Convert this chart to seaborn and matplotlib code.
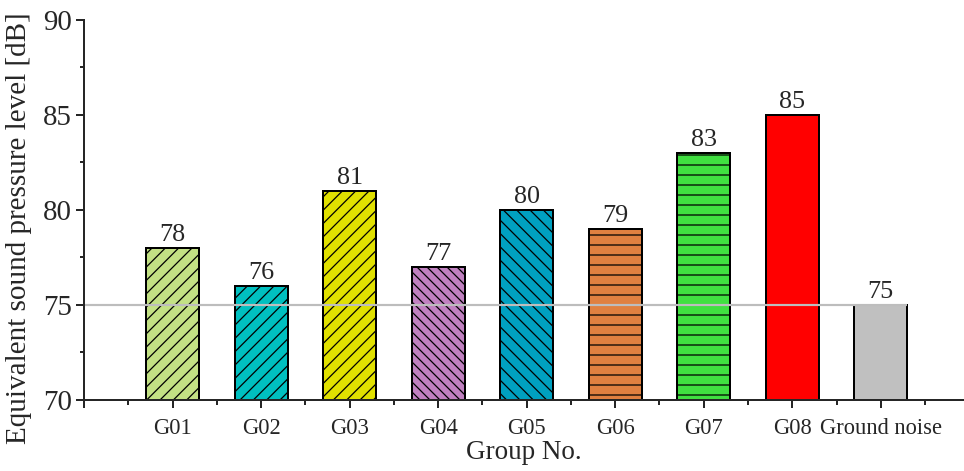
import numpy as np
import pandas as pd
import matplotlib
matplotlib.use("Agg")
import matplotlib.pyplot as plt
import seaborn as sns

# Equivalent sound pressure level per test group
groups = ["G01", "G02", "G03", "G04", "G05", "G06", "G07", "G08", "Ground noise"]
levels = [78, 76, 81, 77, 80, 79, 83, 85, 75]
colors = ["#C3E184", "#00C0C0", "#E0E000", "#C080C0", "#00A0C0",
          "#E08040", "#40E040", "#FF0000", "#C0C0C0"]
hatches = ["///", "///", "///", "\\\\\\\\", "\\\\\\", "--", "--", "", ""]

y_ticks = [70, 75, 80, 85, 90]

DPI = 120
W, H = 964, 471
sns.set_style("ticks")
plt.rcParams["font.family"] = ["Liberation Serif", "DejaVu Serif"]
plt.rcParams["hatch.linewidth"] = 0.75
plt.rcParams["axes.linewidth"] = 1.2

fig = plt.figure(figsize=(W / DPI, H / DPI), dpi=DPI)
ax = fig.add_axes([84 / W, 1 - 399.5 / H, 1 - 84 / W, (399.5 - 20) / H])

df = pd.DataFrame({"group": groups, "level": levels})
sns.barplot(data=df, x="group", y="level", hue="group", palette=colors,
            legend=False, width=0.6, saturation=1, edgecolor="black",
            linewidth=1.2, ax=ax, zorder=2)

for patch, h in zip(ax.patches, hatches):
    patch.set_hatch(h)

# value labels above bars
for i, v in enumerate(levels):
    ax.text(i, v + 0.1, f"{v}", ha="center", va="bottom", fontsize=15.7)

# ground-noise reference line
bar_w = 0.6
noise = levels[-1]
ax.plot([-1, len(groups) - 1 + bar_w / 2], [noise, noise], color="#BDBDBD",
        lw=1.3, zorder=3, solid_capstyle="butt")

ax.set_ylim(70, 90)
ax.set_xlim(-1, 8.94)
ax.set_yticks(y_ticks)
ax.set_yticks(np.arange(72.5, 90, 5), minor=True)
ax.set_xticks(range(-1, len(groups)))
ax.set_xticklabels([""] + groups)
ax.set_xticks(np.arange(-0.5, len(groups), 1), minor=True)

ax.tick_params(axis="y", which="major", length=4.9, width=1.2, labelsize=17.3, pad=2.5)
ax.tick_params(axis="y", which="minor", length=2.7, width=1.2)
ax.tick_params(axis="x", which="major", length=4.9, width=1.2, labelsize=13.5, pad=6.5)
ax.tick_params(axis="x", which="minor", length=2.7, width=1.2)

sns.despine(ax=ax)
ax.spines["left"].set_zorder(4)
ax.spines["bottom"].set_zorder(4)

ax.set_xlabel("Group No.", fontsize=16.3, labelpad=0.5)
ax.set_ylabel("")
fig.text(19 / W, 1 - 228 / H, "Equivalent sound pressure level [dB]",
         rotation=90, ha="center", va="center", fontsize=17.5)

fig.savefig("out.png", dpi=DPI)
